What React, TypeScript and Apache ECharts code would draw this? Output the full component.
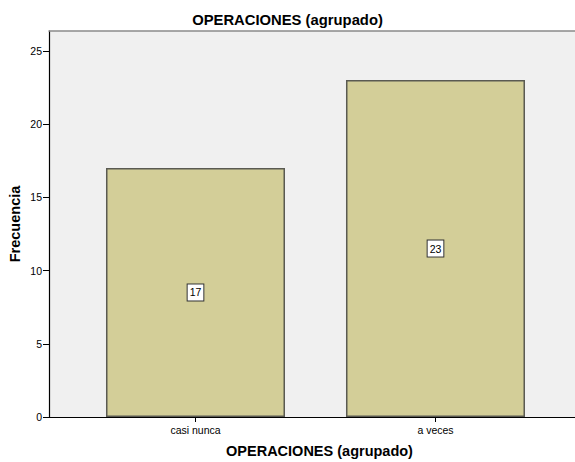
import React, { useEffect, useRef } from "react";
import * as echarts from "echarts";

const categories = ["casi nunca", "a veces"];
const frequencies = [17, 23];
const yTicks = [0, 5, 10, 15, 20, 25];
const titleText = "OPERACIONES (agrupado)";
const xName = "OPERACIONES (agrupado)";
const yName = "Frecuencia";

export default function App() {
  const ref = useRef<HTMLDivElement>(null);
  useEffect(() => {
    if (!ref.current) return;
    const chart = echarts.init(ref.current, null, { renderer: "svg" });
    const font = "Liberation Sans, Arial, sans-serif";
    chart.setOption({
      animation: false,
      backgroundColor: "#ffffff",
      title: {
        text: titleText,
        left: "center",
        top: 7,
        textStyle: { fontFamily: font, fontSize: 14.8, fontWeight: "bold", color: "#000" },
      },
      grid: {
        left: 49,
        top: 31,
        right: 0,
        height: 386,
        show: true,
        backgroundColor: "#f0f0f0",
        borderWidth: 0,
        containLabel: false,
        outerBoundsMode: "none",
      },
      xAxis: [
        {
          type: "value",
          min: -0.6104,
          max: 1.5813,
          name: xName,
          nameLocation: "middle",
          nameGap: 26,
          nameTextStyle: {
            fontFamily: font,
            fontSize: 14.5,
            fontWeight: "bold",
            color: "#000",
            padding: [0, 0, 0, 15],
          },
          splitLine: { show: false },
          axisLine: { show: true, onZero: false, lineStyle: { color: "#000", width: 1.2 } },
          axisTick: { show: true, length: 5, customValues: [0, 1], lineStyle: { color: "#000" } },
          axisLabel: {
            customValues: [0, 1],
            formatter: (v: number) => categories[Math.round(v)] ?? "",
            fontFamily: font,
            fontSize: 10.5,
            color: "#000",
            margin: 7,
          },
        },
        {
          type: "value",
          position: "top",
          min: 0,
          max: 1,
          splitLine: { show: false },
          axisLine: { show: true, onZero: false, lineStyle: { color: "#8a8a8a", width: 1.5 } },
          axisTick: { show: false },
          axisLabel: { show: false },
        },
      ],
      yAxis: {
        type: "value",
        min: 0,
        max: 26.35,
        name: yName,
        nameLocation: "middle",
        nameGap: 27,
        nameMoveOverlap: false,
        nameRotate: 90,
        nameTextStyle: { fontFamily: font, fontSize: 14.5, fontWeight: "bold", color: "#000" },
        splitLine: { show: false },
        axisLine: { show: true, onZero: false, lineStyle: { color: "#000", width: 1.2 } },
        axisTick: { show: true, length: 6, customValues: yTicks, lineStyle: { color: "#000" } },
        axisLabel: {
          customValues: yTicks,
          fontFamily: font,
          fontSize: 10.5,
          color: "#000",
          margin: 7,
        },
      },
      series: [
        {
          type: "bar",
          xAxisIndex: 0,
          data: frequencies.map((v, i) => [i, v]),
          barWidth: 179,
          itemStyle: { color: "#d3ce98", borderColor: "#5a5a52", borderWidth: 1.5 },
          label: {
            show: true,
            position: "inside",
            formatter: (p: any) => String(p.value[1]),
            fontFamily: font,
            fontSize: 10.5,
            color: "#000",
            backgroundColor: "#ffffff",
            borderColor: "#333",
            borderWidth: 1,
            padding: [3, 2, 2, 2],
          },
        },
      ],
    });
    return () => chart.dispose();
  }, []);
  return (
    <div
      ref={ref}
      style={{ position: "fixed", left: 0, top: 0, width: 575, height: 462 }}
    />
  );
}
